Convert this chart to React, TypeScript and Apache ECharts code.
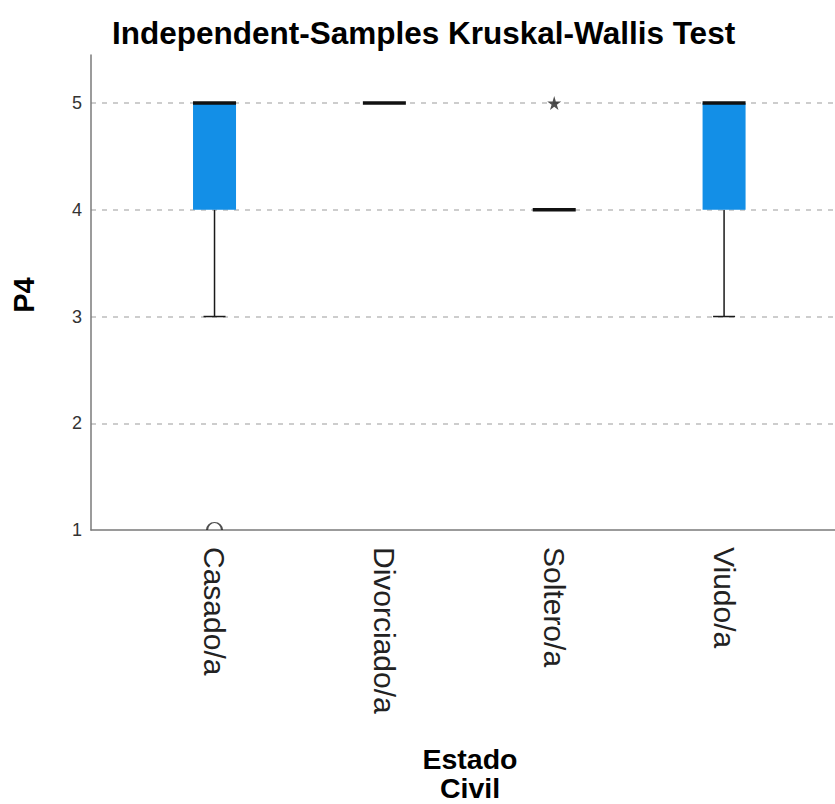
import React, { useEffect, useRef } from "react";
import * as echarts from "echarts";

const categories = ["Casado/a", "Divorciado/a", "Soltero/a", "Viudo/a"];
const minVals = [3, 5, 4, 3];
const q1Vals = [4, 5, 4, 4];
const medianVals = [5, 5, 4, 5];
const q3Vals = [5, 5, 4, 5];
const maxVals = [5, 5, 4, 5];
const outliers: [string, number][] = [["Casado/a", 1]];
const extremes: [string, number][] = [["Soltero/a", 5]];
const yTicks = [1, 2, 3, 4, 5];

const BOX_BLUE = "#138fe7";
const BOX_W = 43;
const CAP_W = 22;

export default function App() {
  const ref = useRef<HTMLDivElement>(null);
  useEffect(() => {
    if (!ref.current) return;
    const chart = echarts.init(ref.current, null, { renderer: "svg" });
    const fontFamily = "'Liberation Sans', Arial, sans-serif";
    const option: any = {
      animation: false,
      backgroundColor: "#ffffff",
      textStyle: { fontFamily },
      title: {
        text: "Independent-Samples Kruskal-Wallis Test",
        left: 107,
        top: 12,
        textStyle: { fontSize: 31.5, fontWeight: "bold", color: "#000", fontFamily },
      },
      grid: [
        { left: 91, right: 0, top: 55, bottom: 274 },
        { left: 129.6, right: 26, top: 55, bottom: 274 },
      ],
      xAxis: [
        {
          gridIndex: 0,
          type: "value",
          min: 0,
          max: 1,
          axisLine: { show: true, lineStyle: { color: "#7a7a7a", width: 1.5 } },
          axisTick: { show: false },
          axisLabel: { show: false },
          splitLine: { show: false },
        },
        {
          gridIndex: 1,
          type: "category",
          data: categories,
          axisLine: { show: false },
          axisTick: { show: false },
          axisLabel: {
            rotate: -90,
            fontSize: 30,
            margin: 17,
            color: "#222",
            fontFamily,
          },
          splitLine: { show: false },
        },
      ],
      yAxis: [
        {
          gridIndex: 0,
          type: "value",
          min: 1,
          max: 5.45,
          interval: 1,
          axisLine: { show: true, lineStyle: { color: "#7a7a7a", width: 1.5 } },
          axisTick: { show: false },
          axisLabel: {
            fontSize: 18,
            color: "#333",
            margin: 9,
            formatter: (v: number) => (yTicks.includes(v) ? String(v) : ""),
          },
          splitLine: {
            show: true,
            showMinLine: false,
            showMaxLine: false,
            lineStyle: { color: "#bdbdbd", type: [5, 6], width: 1.5 },
          },
        },
        {
          gridIndex: 1,
          type: "value",
          min: 1,
          max: 5.45,
          show: false,
        },
      ],
      series: [
        {
          type: "custom",
          xAxisIndex: 1,
          yAxisIndex: 1,
          data: categories.map((c, i) => [i, minVals[i], q1Vals[i], medianVals[i], q3Vals[i], maxVals[i]]),
          encode: { x: 0, y: [1, 2, 3, 4, 5] },
          renderItem: (params: any, api: any) => {
            const i = api.value(0);
            const mn = api.value(1);
            const q1 = api.value(2);
            const md = api.value(3);
            const q3 = api.value(4);
            const mx = api.value(5);
            const xc = api.coord([i, md])[0];
            const yMin = api.coord([i, mn])[1];
            const yQ1 = api.coord([i, q1])[1];
            const yMd = api.coord([i, md])[1];
            const yQ3 = api.coord([i, q3])[1];
            const yMax = api.coord([i, mx])[1];
            const children: any[] = [];
            const lineStyle = { stroke: "#1a1a1a", lineWidth: 1.5 };
            if (mn < q1) {
              children.push({ type: "line", shape: { x1: xc, y1: yQ1, x2: xc, y2: yMin }, style: lineStyle });
              children.push({ type: "line", shape: { x1: xc - CAP_W / 2, y1: yMin, x2: xc + CAP_W / 2, y2: yMin }, style: lineStyle });
            }
            if (mx > q3) {
              children.push({ type: "line", shape: { x1: xc, y1: yQ3, x2: xc, y2: yMax }, style: lineStyle });
              children.push({ type: "line", shape: { x1: xc - CAP_W / 2, y1: yMax, x2: xc + CAP_W / 2, y2: yMax }, style: lineStyle });
            }
            if (q3 > q1) {
              children.push({
                type: "rect",
                shape: { x: xc - BOX_W / 2, y: yQ3, width: BOX_W, height: yQ1 - yQ3 },
                style: { fill: BOX_BLUE },
              });
            }
            children.push({
              type: "line",
              shape: { x1: xc - BOX_W / 2, y1: yMd, x2: xc + BOX_W / 2, y2: yMd },
              style: { stroke: "#111", lineWidth: 3.5 },
            });
            return { type: "group", children };
          },
        },
        {
          type: "scatter",
          xAxisIndex: 1,
          yAxisIndex: 1,
          data: outliers,
          symbol: "path://M0,10A10,10,0,0,1,20,10",
          symbolSize: [15, 7.5],
          symbolOffset: [0, -3.75],
          itemStyle: { color: "transparent", borderColor: "#222", borderWidth: 1.5 },
          silent: true,
        },
        {
          type: "scatter",
          xAxisIndex: 1,
          yAxisIndex: 1,
          data: extremes,
          symbol: "path://M50,0L61,35L98,35L68,57L79,91L50,70L21,91L32,57L2,35L39,35Z",
          symbolSize: 14,
          itemStyle: { color: "#222" },
          silent: true,
        },
      ],
      graphic: [
        {
          type: "text",
          x: 24,
          y: 295,
          rotation: Math.PI / 2,
          style: {
            text: "P4",
            fontSize: 29,
            fontWeight: "bold",
            fill: "#000",
            fontFamily,
            align: "center",
            verticalAlign: "middle",
          },
        },
        {
          type: "text",
          x: 470,
          y: 759,
          style: {
            text: "Estado",
            fontSize: 28.5,
            fontWeight: "bold",
            fill: "#000",
            fontFamily,
            align: "center",
            verticalAlign: "middle",
          },
        },
        {
          type: "text",
          x: 470,
          y: 788,
          style: {
            text: "Civil",
            fontSize: 28.5,
            fontWeight: "bold",
            fill: "#000",
            fontFamily,
            align: "center",
            verticalAlign: "middle",
          },
        },
      ],
    };
    chart.setOption(option);
    return () => chart.dispose();
  }, []);
  return (
    <div
      ref={ref}
      style={{ position: "fixed", left: 0, top: 0, width: 835, height: 804 }}
    />
  );
}
